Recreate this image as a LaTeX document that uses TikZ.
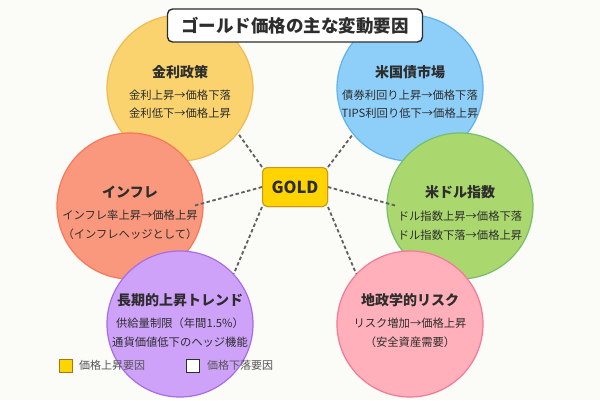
\documentclass[tikz,border=0pt]{standalone}
\usepackage{fontspec}
\setmainfont{Noto Sans CJK JP}
\usetikzlibrary{calc}
\definecolor{bg}{RGB}{251,251,248}
\definecolor{txt}{RGB}{45,45,45}
\definecolor{yelF}{RGB}{250,211,110}
\definecolor{yelD}{RGB}{238,188,78}
\definecolor{bluF}{RGB}{142,207,250}
\definecolor{bluD}{RGB}{95,178,240}
\definecolor{oraF}{RGB}{250,152,126}
\definecolor{oraD}{RGB}{250,118,88}
\definecolor{greF}{RGB}{170,216,110}
\definecolor{greD}{RGB}{118,190,108}
\definecolor{purF}{RGB}{207,162,250}
\definecolor{purD}{RGB}{168,108,230}
\definecolor{pinF}{RGB}{255,176,186}
\definecolor{pinD}{RGB}{245,120,150}
\definecolor{goldF}{RGB}{255,212,0}
\definecolor{goldD}{RGB}{205,150,20}
\definecolor{lineC}{RGB}{95,95,95}
\definecolor{legT}{RGB}{85,85,85}
\tikzset{
  factor/.style={circle, minimum size=146pt, inner sep=0pt, line width=1.2pt},
  ftitle/.style={text=txt, font=\fontsize{14}{16}\selectfont\bfseries, inner sep=0pt},
  fbody/.style={text=txt, font=\fontsize{11.3}{13}\selectfont, inner sep=0pt},
  link/.style={draw=lineC, line width=1.8pt, dash pattern=on 3.5pt off 2.5pt},
  goldbox/.style={draw=goldD, fill=goldF, line width=1pt, rounded corners=5pt, minimum width=65pt, minimum height=39pt, inner sep=0pt,
      text=txt, font=\fontsize{16.5}{18}\selectfont\bfseries},
  legbox/.style={minimum size=13pt, inner sep=0pt, line width=0.8pt},
  legtext/.style={text=legT, font=\fontsize{11}{13}\selectfont, inner sep=0pt, anchor=west}
}
\begin{document}
\begin{tikzpicture}[x=1pt,y=-1pt]
\fill[bg] (0,0) rectangle (600,400);
\useasboundingbox (0,0) rectangle (600,400);
% circles
\node[factor, fill=yelF, draw=yelD] (c1) at (180,88) {};
\node[factor, fill=bluF, draw=bluD] (c2) at (410,88) {};
\node[factor, fill=oraF, draw=oraD] (c3) at (130,206) {};
\node[factor, fill=greF, draw=greD] (c4) at (460,206) {};
\node[factor, fill=purF, draw=purD] (c5) at (180,324) {};
\node[factor, fill=pinF, draw=pinD] (c6) at (410,324) {};
% gold box (for anchors)
\node[goldbox] (gold) at (295,187) {GOLD};
\coordinate (e3) at (193,206);
\coordinate (e4) at (397,206);
% connectors
\draw[link] (gold.north west) -- (c1.-38);
\draw[link] (gold.north east) -- (c2.-141);
\draw[link] (gold.west) -- (e3);
\draw[link] (gold.east) -- (e4);
\draw[link] (gold.south west) -- (c5.43);
\draw[link] (gold.south east) -- (c6.137);
\node[goldbox] (goldtop) at (gold) {GOLD};
% title
\node[draw=txt, fill=white, line width=1.4pt, rounded corners=5pt, minimum width=255pt, minimum height=33pt, inner sep=0pt,
      text=txt, font=\fontsize{17.5}{20}\selectfont\bfseries] (title) at (295,25.5) {ゴールド価格の主な変動要因};
% circle texts
\node[ftitle] (t1) at (180,72) {金利政策};
\node[fbody] (t1a) at (180,95) {金利上昇→価格下落};
\node[fbody] (t1b) at (180,113) {金利低下→価格上昇};
\node[ftitle] (t2) at (410,72) {米国債市場};
\node[fbody] (t2a) at (410,95) {債券利回り上昇→価格下落};
\node[fbody] (t2b) at (410,113) {TIPS利回り低下→価格上昇};
\node[ftitle] (t3) at (130,192) {インフレ};
\node[fbody] (t3a) at (130,215) {インフレ率上昇→価格上昇};
\node[fbody] (t3b) at (130,234) {（インフレヘッジとして）};
\node[ftitle] (t4) at (460,192) {米ドル指数};
\node[fbody] (t4a) at (460,216) {ドル指数上昇→価格下落};
\node[fbody] (t4b) at (460,235) {ドル指数下落→価格上昇};
\node[ftitle] (t5) at (180,300) {長期的上昇トレンド};
\node[fbody] (t5a) at (180,323) {供給量制限（年間1.5\%）};
\node[fbody] (t5b) at (180,342) {通貨価値低下のヘッジ機能};
\node[ftitle] (t6) at (410,300) {地政学的リスク};
\node[fbody] (t6a) at (410,323) {リスク増加→価格上昇};
\node[fbody] (t6b) at (410,342) {（安全資産需要）};
% legend
\node[legbox, draw=goldD!80!black, fill=goldF] (l1) at (65.5,365.5) {};
\node[legtext] (l1t) at (79,365.5) {価格上昇要因};
\node[legbox, draw=txt, fill=white] (l2) at (193,365.5) {};
\node[legtext] (l2t) at (207,365.5) {価格下落要因};
\end{tikzpicture}
\end{document}
